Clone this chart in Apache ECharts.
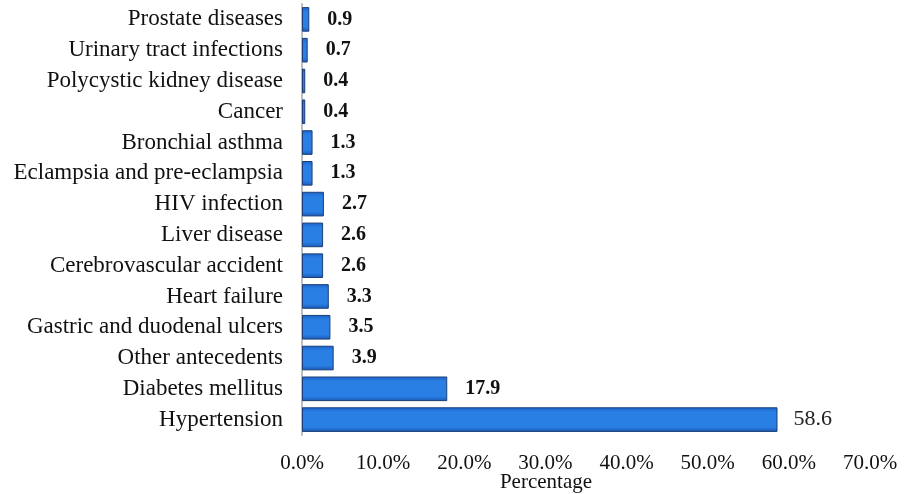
<!DOCTYPE html>
<html>
<head>
<meta charset="utf-8">
<script src="https://cdn.jsdelivr.net/npm/echarts@6/dist/echarts.min.js"></script>
<style>
  html, body { margin: 0; padding: 0; background: #ffffff; }
  #chart { width: 918px; height: 494px; }
</style>
</head>
<body>
<div id="chart"></div>
<script>
// Medical antecedents, listed bottom to top
const categories = [
  'Hypertension',
  'Diabetes mellitus',
  'Other antecedents',
  'Gastric and duodenal ulcers',
  'Heart failure',
  'Cerebrovascular accident',
  'Liver disease',
  'HIV infection',
  'Eclampsia and pre-eclampsia',
  'Bronchial asthma',
  'Cancer',
  'Polycystic kidney disease',
  'Urinary tract infections',
  'Prostate diseases'
];
const percentages = [58.6, 17.9, 3.9, 3.5, 3.3, 2.6, 2.6, 2.7, 1.3, 1.3, 0.4, 0.4, 0.7, 0.9];
const xTicks = [0, 10, 20, 30, 40, 50, 60, 70];

const serif = '"Liberation Serif", "Times New Roman", serif';

const chart = echarts.init(document.getElementById('chart'));

const barFill = new echarts.graphic.LinearGradient(0, 0, 0, 1, [
  { offset: 0, color: '#1c62c8' },
  { offset: 0.2, color: '#2a7fe4' },
  { offset: 0.8, color: '#2a7fe4' },
  { offset: 1, color: '#1b58b4' }
]);

chart.setOption({
  animation: false,
  backgroundColor: '#ffffff',
  grid: {
    left: 302, right: 48, top: 4, bottom: 59,
    containLabel: false,
    outerBoundsMode: 'none'
  },
  xAxis: {
    type: 'value',
    min: xTicks[0],
    max: xTicks[xTicks.length - 1],
    interval: 10,
    axisLine: { show: false },
    axisTick: { show: false },
    splitLine: { show: false },
    axisLabel: {
      margin: 18,
      color: '#111',
      fontFamily: serif,
      fontSize: 21,
      formatter: v => v.toFixed(1) + '%'
    },
    name: 'Percentage',
    nameLocation: 'middle',
    nameGap: 37,
    nameMoveOverlap: false,
    nameTextStyle: {
      color: '#111',
      fontFamily: serif,
      fontSize: 21,
      padding: [0, 80, 0, 0]
    }
  },
  yAxis: {
    type: 'category',
    data: categories,
    axisLine: { show: true, lineStyle: { color: '#bdbdbd', width: 2 } },
    axisTick: { show: false },
    axisLabel: {
      margin: 19,
      color: '#111',
      fontFamily: serif,
      fontSize: 23
    }
  },
  series: [{
    type: 'bar',
    data: percentages.map((v, i) => ({
      value: v,
      label: i === 0
        ? { fontWeight: 'normal', color: '#222', fontSize: 22, distance: 16 }
        : {}
    })),
    barCategoryGap: '20%',
    itemStyle: {
      color: barFill,
      borderColor: '#1b3e78',
      borderWidth: 1
    },
    label: {
      show: true,
      position: 'right',
      distance: 18,
      color: '#111',
      fontFamily: serif,
      fontSize: 20,
      fontWeight: 'bold',
      formatter: p => p.value.toFixed(1)
    }
  }]
});
</script>
</body>
</html>
